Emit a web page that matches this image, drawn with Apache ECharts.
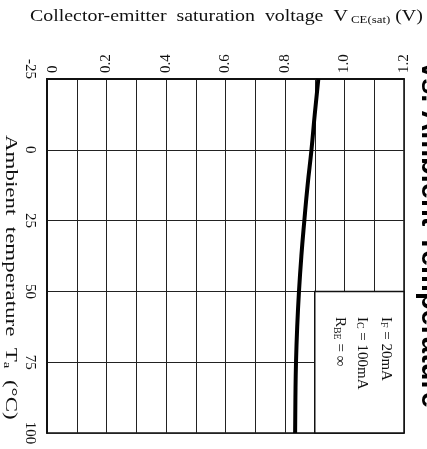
<!DOCTYPE html>
<html>
<head>
<meta charset="utf-8">
<script src="https://cdn.jsdelivr.net/npm/echarts@6/dist/echarts.min.js"></script>
<style>
  html, body { margin: 0; padding: 0; background: #fff; }
  #chart { width: 427px; height: 449px; }
</style>
</head>
<body>
<div id="chart"></div>
<script>
// V_CE(sat) against ambient temperature, drawn on its side
const temperatures = [-25, -12.5, 0, 12.5, 25, 37.5, 50, 62.5, 75, 87.5, 100];   // °C
const vceSat       = [0.912, 0.900, 0.889, 0.876, 0.865, 0.855, 0.847, 0.841, 0.837, 0.835, 0.834]; // V
const voltageTicks = [0, 0.2, 0.4, 0.6, 0.8, 1.0, 1.2];
const tempTicks    = [-25, 0, 25, 50, 75, 100];
const conditionBox = { vFrom: 0.9, vTo: 1.2, tFrom: 50, tTo: 100 };
const conditions = [
  { main: 'I', sub: 'F', rest: ' = 20mA' },
  { main: 'I', sub: 'C', rest: ' = 100mA' },
  { main: 'R', sub: 'BE', rest: ' = ∞' }
];

const SERIF = '"Liberation Serif", "Times New Roman", serif';
const INK = '#111';

const chart = echarts.init(document.getElementById('chart'), null, { renderer: 'canvas' });

const points = temperatures.map((t, i) => [vceSat[i], t]);

chart.setOption({
  animation: false,
  backgroundColor: '#fff',
  grid: {
    left: 47, top: 79, width: 357, height: 354,
    containLabel: false, outerBoundsMode: 'none',
    show: true, borderColor: INK, borderWidth: 1.5, backgroundColor: 'transparent'
  },
  xAxis: {
    type: 'value', position: 'top', min: 0, max: 1.2, interval: 0.1,
    axisLine: { show: true, onZero: false, lineStyle: { color: INK, width: 2 } },
    axisTick: { show: false },
    splitLine: { show: true, lineStyle: { color: '#222', width: 1 } },
    axisLabel: {
      rotate: -90, margin: 6, color: INK, fontFamily: SERIF, fontSize: 15,
      formatter: v => {
        const r = Math.round(v * 10) / 10;
        if (!voltageTicks.some(t => Math.abs(t - r) < 1e-6)) return '';
        return r === 0 ? '{z|0}' : r.toFixed(1);
      },
      rich: { z: { fontFamily: SERIF, fontSize: 15, color: INK, padding: [12, 0, 0, 0] } }
    }
  },
  yAxis: {
    type: 'value', inverse: true, min: -25, max: 100, interval: 25,
    axisLine: { show: true, onZero: false, lineStyle: { color: INK, width: 2 } },
    axisTick: { show: false },
    splitLine: { show: true, lineStyle: { color: '#222', width: 1 } },
    axisLabel: {
      rotate: -90, margin: 10, color: INK, fontFamily: SERIF, fontSize: 15,
      alignMinLabel: 'right',
      formatter: v => tempTicks.includes(v) ? String(v) : ''
    }
  },
  series: [{
    type: 'line',
    data: points,
    smooth: true,
    showSymbol: false,
    lineStyle: { color: '#000', width: 4 },
    z: 5,
    markArea: {
      silent: true,
      itemStyle: { color: '#fff', opacity: 1, borderColor: INK, borderWidth: 1.5 },
      data: [[
        { coord: [conditionBox.vFrom, conditionBox.tFrom] },
        { coord: [conditionBox.vTo, conditionBox.tTo] }
      ]]
    }
  }]
});

// condition notes inside the box
const colV = [1.14, 1.06, 0.985];
const startT = 59;
const notes = conditions.map((c, i) => {
  const p = chart.convertToPixel({ gridIndex: 0 }, [colV[i], startT]);
  return {
    type: 'text', x: p[0], y: p[1], rotation: -Math.PI / 2, z: 50,
    style: {
      text: '{m|' + c.main + '}{s|' + c.sub + '}{m|' + c.rest + '}',
      align: 'left', verticalAlign: 'middle',
      rich: {
        m: { fontFamily: SERIF, fontSize: 15, fill: INK, lineHeight: 18 },
        s: { fontFamily: SERIF, fontSize: 10, fill: INK, lineHeight: 18, padding: [6, 0, 0, 0] }
      }
    }
  };
});

// axis captions (typeset slightly wide) and the heading on the right edge
const captions = [
  {
    type: 'text', x: 30, y: 17, scaleX: 1.17, z: 50,
    style: {
      text: '{m|Collector-emitter  saturation  voltage  V}{s| CE(sat)}{m| (V)}',
      align: 'left', verticalAlign: 'middle',
      rich: {
        m: { fontFamily: SERIF, fontSize: 17, fill: INK, lineHeight: 20 },
        s: { fontFamily: SERIF, fontSize: 11, fill: INK, lineHeight: 20, padding: [6, 0, 0, 0] }
      }
    }
  },
  {
    type: 'text', x: 10, y: 135, scaleX: 1.35, rotation: -Math.PI / 2, z: 50,
    style: {
      text: '{m|Ambient  temperature  T}{s|a}{m|  (°C)}',
      align: 'left', verticalAlign: 'middle',
      rich: {
        m: { fontFamily: SERIF, fontSize: 17, fill: INK, lineHeight: 20 },
        s: { fontFamily: SERIF, fontSize: 11, fill: INK, lineHeight: 20, padding: [6, 0, 0, 0] }
      }
    }
  },
  {
    type: 'text', x: 415, y: 62, rotation: -Math.PI / 2, z: 50,
    style: {
      text: 'vs. Ambient Temperature',
      fontFamily: '"Liberation Sans", Arial, sans-serif', fontWeight: 'bold', fontSize: 29,
      fill: '#000', align: 'left', verticalAlign: 'bottom'
    }
  }
];

chart.setOption({ graphic: notes.concat(captions) });
</script>
</body>
</html>
